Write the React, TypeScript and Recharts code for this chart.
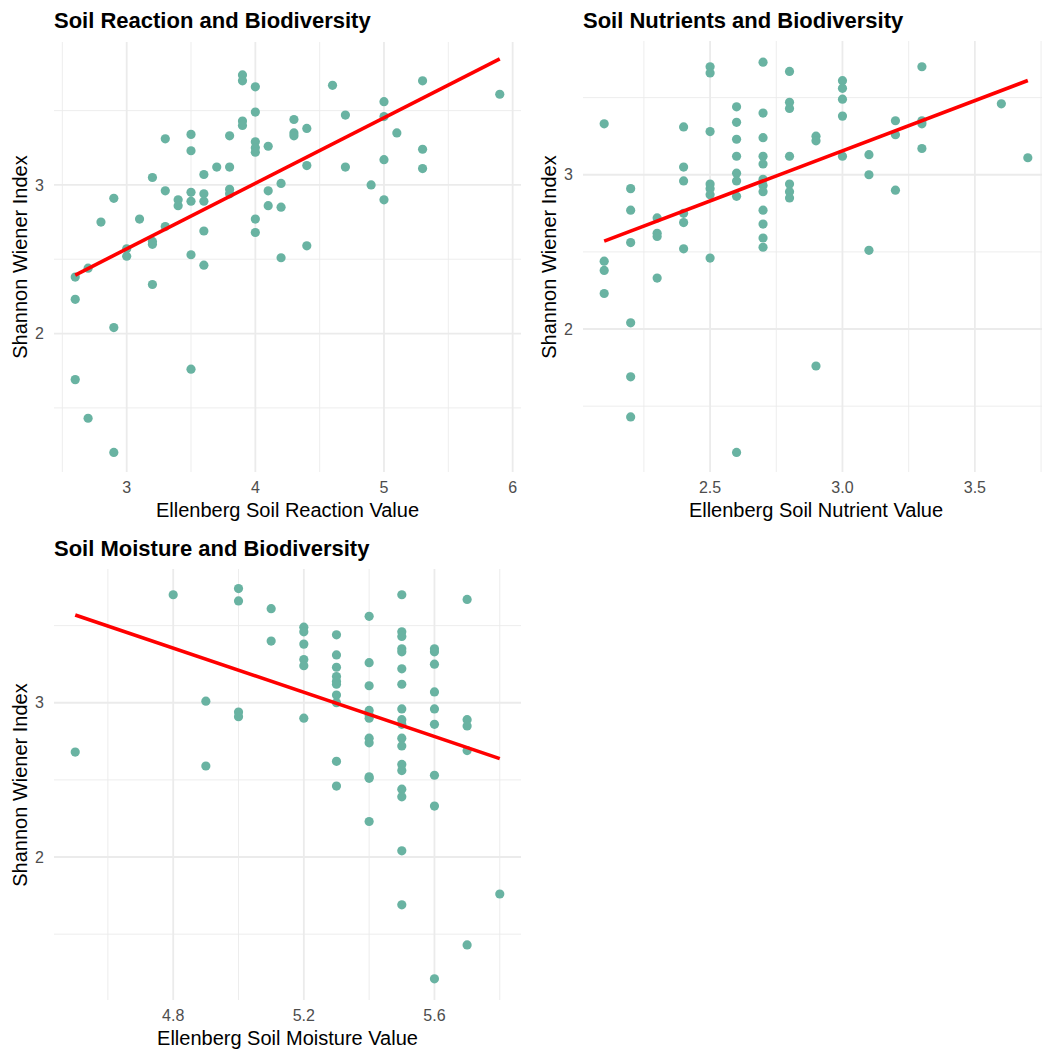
import { ReferenceLine, Scatter, ScatterChart, XAxis, YAxis } from 'recharts'

// Ellenberg soil reaction (pH) vs Shannon-Wiener index
const reactionX = [
	2.6, 2.6, 2.6, 2.7, 2.7, 2.8, 2.9, 2.9, 2.9, 3.0, 3.0, 3.1, 3.2, 3.2, 3.2, 3.2, 3.3, 3.3, 3.3, 3.4, 3.4,
	3.5, 3.5, 3.5, 3.5, 3.5, 3.5, 3.6, 3.6, 3.6, 3.6, 3.6, 3.7, 3.8, 3.8, 3.8, 3.8, 3.9, 3.9, 3.9, 3.9,
	4.0, 4.0, 4.0, 4.0, 4.0, 4.0, 4.0, 4.1, 4.1, 4.1, 4.2, 4.2, 4.2, 4.3, 4.3, 4.3, 4.4, 4.4, 4.4, 4.6,
	4.7, 4.7, 4.9, 5.0, 5.0, 5.0, 5.0, 5.1, 5.3, 5.3, 5.3, 5.9,
]
const reactionY = [
	2.38, 2.23, 1.69, 2.44, 1.43, 2.75, 2.91, 2.04, 1.2, 2.57, 2.52, 2.77, 3.05, 2.62, 2.6, 2.33, 3.31, 2.96, 2.72, 2.9, 2.86,
	3.34, 3.23, 2.95, 2.89, 2.53, 1.76, 3.07, 2.94, 2.89, 2.69, 2.46, 3.12, 3.33, 3.12, 2.97, 2.94, 3.74, 3.7, 3.43, 3.4,
	3.66, 3.49, 3.29, 3.25, 3.22, 2.77, 2.68, 3.26, 2.96, 2.86, 3.01, 2.85, 2.51, 3.44, 3.35, 3.33, 3.38, 3.13, 2.59, 3.67,
	3.47, 3.12, 3.0, 3.56, 3.46, 3.17, 2.9, 3.35, 3.7, 3.24, 3.11, 3.61,
]

// Ellenberg soil nutrients
const nutrientX = [
	2.1, 2.1, 2.1, 2.1, 2.2, 2.2, 2.2, 2.2, 2.2, 2.2, 2.3, 2.3, 2.3, 2.3, 2.4, 2.4, 2.4, 2.4, 2.4, 2.4,
	2.5, 2.5, 2.5, 2.5, 2.5, 2.5, 2.5, 2.6, 2.6, 2.6, 2.6, 2.6, 2.6, 2.6, 2.6,
	2.7, 2.7, 2.7, 2.7, 2.7, 2.7, 2.7, 2.7, 2.7, 2.7, 2.7, 2.7, 2.8, 2.8, 2.8, 2.8, 2.8, 2.8, 2.8,
	2.9, 2.9, 2.9, 3.0, 3.0, 3.0, 3.0, 3.0, 3.1, 3.1, 3.1, 3.2, 3.2, 3.2, 3.3, 3.3, 3.3, 3.3, 3.6, 3.7,
]
const nutrientY = [
	3.33, 2.44, 2.38, 2.23, 2.91, 2.77, 2.56, 2.04, 1.69, 1.43, 2.72, 2.62, 2.6, 2.33, 3.31, 3.05, 2.96, 2.75, 2.69, 2.52,
	3.7, 3.66, 3.28, 2.94, 2.91, 2.87, 2.46, 3.44, 3.34, 3.23, 3.12, 3.01, 2.96, 2.86, 1.2,
	3.73, 3.4, 3.24, 3.12, 3.07, 2.97, 2.93, 2.89, 2.77, 2.68, 2.59, 2.53, 3.67, 3.47, 3.43, 3.12, 2.94, 2.89, 2.85,
	3.25, 3.22, 1.76, 3.61, 3.56, 3.49, 3.38, 3.12, 3.13, 3.0, 2.51, 3.35, 3.26, 2.9, 3.7, 3.35, 3.33, 3.17, 3.46, 3.11,
]

// Ellenberg soil moisture
const moistureX = [
	4.5, 4.8, 4.9, 4.9, 5.0, 5.0, 5.0, 5.0, 5.1, 5.1, 5.2, 5.2, 5.2, 5.2, 5.2, 5.2,
	5.3, 5.3, 5.3, 5.3, 5.3, 5.3, 5.3, 5.3, 5.3, 5.3, 5.4, 5.4, 5.4, 5.4, 5.4, 5.4, 5.4, 5.4, 5.4, 5.4, 5.4,
	5.5, 5.5, 5.5, 5.5, 5.5, 5.5, 5.5, 5.5, 5.5, 5.5, 5.5, 5.5, 5.5, 5.5, 5.5, 5.5, 5.5, 5.5,
	5.6, 5.6, 5.6, 5.6, 5.6, 5.6, 5.6, 5.6, 5.6, 5.7, 5.7, 5.7, 5.7, 5.7, 5.8,
]
const moistureY = [
	2.68, 3.7, 3.01, 2.59, 3.74, 3.66, 2.94, 2.91, 3.61, 3.4, 3.49, 3.46, 3.38, 3.28, 3.24, 2.9,
	3.44, 3.31, 3.23, 3.17, 3.14, 3.12, 3.05, 3.0, 2.62, 2.46, 3.56, 3.26, 3.11, 2.95, 2.92, 2.9, 2.77, 2.74, 2.52, 2.51, 2.23,
	3.7, 3.46, 3.43, 3.35, 3.33, 3.22, 3.12, 2.96, 2.89, 2.86, 2.77, 2.72, 2.6, 2.56, 2.44, 2.39, 2.04, 1.69,
	3.35, 3.33, 3.25, 3.07, 2.96, 2.86, 2.53, 2.33, 1.21, 3.67, 2.89, 2.85, 2.69, 1.43, 1.76,
]

const reactionTicks = [3, 4, 5, 6]
const reactionMinor = [2.5, 3.5, 4.5, 5.5]
const nutrientTicks = [2.5, 3.0, 3.5]
const nutrientMinor = [2.25, 2.75, 3.25, 3.75]
const moistureTicks = [4.8, 5.2, 5.6]
const moistureMinor = [4.6, 5.0, 5.4, 5.8]
const yTicks = [2, 3]
const yMinor = [1.5, 2.5, 3.5]

const POINT = '#69b3a2'
const FIT = '#ff0000'
const GRID = '#ebebeb'
const FONT = '"Liberation Sans", Arial, Helvetica, sans-serif'

const toPoints = (xs: number[], ys: number[]) => xs.map((x, i) => ({ x, y: ys[i] }))

// ordinary least squares, drawn over the x range like geom_smooth(method = "lm")
function fitLine(xs: number[], ys: number[]) {
	const n = xs.length
	const mx = xs.reduce((a, b) => a + b, 0) / n
	const my = ys.reduce((a, b) => a + b, 0) / n
	let sxy = 0
	let sxx = 0
	xs.forEach((x, i) => {
		sxy += (x - mx) * (ys[i] - my)
		sxx += (x - mx) * (x - mx)
	})
	const b = sxy / sxx
	const lo = Math.min(...xs)
	const hi = Math.max(...xs)
	return [
		{ x: lo, y: my + b * (lo - mx) },
		{ x: hi, y: my + b * (hi - mx) },
	]
}

interface PanelProps {
	left: number
	top: number
	title: string
	xLabel: string
	xs: number[]
	ys: number[]
	xDomain: [number, number]
	yDomain: [number, number]
	xTicks: number[]
	xMinor: number[]
	fmt: (v: number) => string
	margin: { top: number; right: number; left: number; bottom: number }
}

const W = 530
const H = 500

function Panel({ left, top, title, xLabel, xs, ys, xDomain, yDomain, xTicks, xMinor, fmt, margin }: PanelProps) {
	const plotLeft = margin.left + 50
	const plotRight = W - margin.right
	const plotTop = margin.top
	const plotBottom = H - margin.bottom - 20
	const cx = (plotLeft + plotRight) / 2
	const cy = (plotTop + plotBottom) / 2
	return (
		<div style={{ position: 'absolute', left, top, width: W, height: H }}>
			<div
				style={{
					position: 'absolute',
					left: plotLeft,
					top: 9.5,
					fontSize: 22,
					fontWeight: 700,
					lineHeight: 1,
					whiteSpace: 'nowrap',
					color: '#000',
				}}
			>
				{title}
			</div>
			<ScatterChart width={W} height={H} margin={margin}>
				{xMinor.map((v) => (
					<ReferenceLine key={'xm' + v} x={v} stroke={GRID} strokeWidth={0.9} />
				))}
				{yMinor.map((v) => (
					<ReferenceLine key={'ym' + v} y={v} stroke={GRID} strokeWidth={0.9} />
				))}
				{xTicks.map((v) => (
					<ReferenceLine key={'xM' + v} x={v} stroke={GRID} strokeWidth={1.8} />
				))}
				{yTicks.map((v) => (
					<ReferenceLine key={'yM' + v} y={v} stroke={GRID} strokeWidth={1.8} />
				))}
				<XAxis
					type="number"
					dataKey="x"
					domain={xDomain}
					ticks={xTicks}
					allowDataOverflow
					height={20}
					tickLine={false}
					axisLine={false}
					tickMargin={4}
					tickFormatter={fmt}
					tick={{ fill: '#4d4d4d', fontSize: 16, fontFamily: FONT }}
				/>
				<YAxis
					type="number"
					dataKey="y"
					domain={yDomain}
					ticks={yTicks}
					allowDataOverflow
					width={50}
					tickLine={false}
					axisLine={false}
					tickMargin={4}
					tick={{ fill: '#4d4d4d', fontSize: 16, fontFamily: FONT }}
				/>
				<Scatter
					data={toPoints(xs, ys)}
					isAnimationActive={false}
					shape={(p: any) => <circle cx={p.cx} cy={p.cy} r={4.6} fill={POINT} />}
				/>
				<Scatter
					data={fitLine(xs, ys)}
					isAnimationActive={false}
					line={{ stroke: FIT, strokeWidth: 3.6 }}
					shape={() => <g />}
				/>
			</ScatterChart>
			<div
				style={{
					position: 'absolute',
					left: cx,
					top: plotBottom + 27.5,
					transform: 'translateX(-50%)',
					fontSize: 20,
					lineHeight: 1,
					whiteSpace: 'nowrap',
					color: '#000',
				}}
			>
				{xLabel}
			</div>
			<div
				style={{
					position: 'absolute',
					left: plotLeft - 34,
					top: cy,
					transform: 'translate(-50%, -50%) rotate(-90deg)',
					fontSize: 20,
					lineHeight: 1,
					whiteSpace: 'nowrap',
					color: '#000',
				}}
			>
				Shannon Wiener Index
			</div>
		</div>
	)
}

export default function App() {
	return (
		<div
			style={{
				position: 'absolute',
				left: 0,
				top: 0,
				width: 1042,
				height: 1049,
				overflow: 'hidden',
				background: '#fff',
				fontFamily: FONT,
			}}
		>
			<Panel
				left={0}
				top={0}
				title="Soil Reaction and Biodiversity"
				xLabel="Ellenberg Soil Reaction Value"
				xs={reactionX}
				ys={reactionY}
				xDomain={[2.435, 6.065]}
				yDomain={[1.0685, 3.9615]}
				xTicks={reactionTicks}
				xMinor={reactionMinor}
				fmt={(v) => String(v)}
				margin={{ top: 42, right: 9, left: 4, bottom: 8 }}
			/>
			<Panel
				left={530}
				top={0}
				title="Soil Nutrients and Biodiversity"
				xLabel="Ellenberg Soil Nutrient Value"
				xs={nutrientX}
				ys={nutrientY}
				xDomain={[2.02, 3.78]}
				yDomain={[1.073, 3.867]}
				xTicks={nutrientTicks}
				xMinor={nutrientMinor}
				fmt={(v) => v.toFixed(1)}
				margin={{ top: 41, right: 11, left: 3, bottom: 8 }}
			/>
			<Panel
				left={0}
				top={528}
				title="Soil Moisture and Biodiversity"
				xLabel="Ellenberg Soil Moisture Value"
				xs={moistureX}
				ys={moistureY}
				xDomain={[4.435, 5.865]}
				yDomain={[1.073, 3.867]}
				xTicks={moistureTicks}
				xMinor={moistureMinor}
				fmt={(v) => v.toFixed(1)}
				margin={{ top: 41, right: 9, left: 4, bottom: 8 }}
			/>
		</div>
	)
}
